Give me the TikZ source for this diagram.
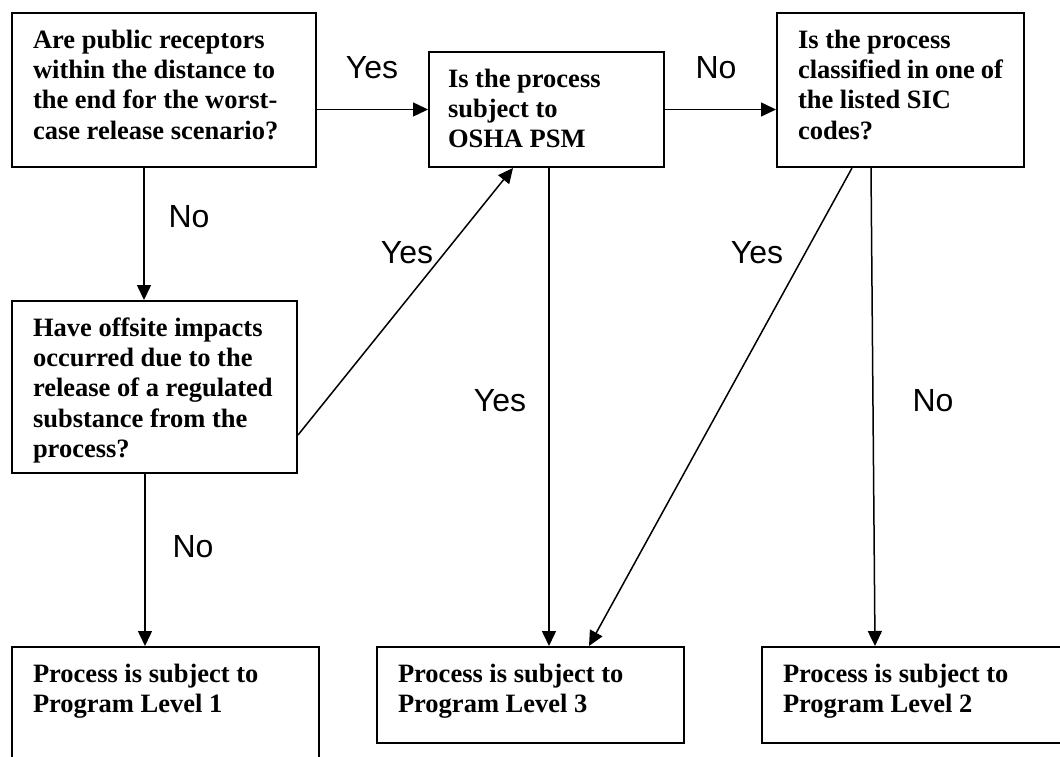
\documentclass[tikz,border=0pt]{standalone}
\usepackage{fontspec}
\setmainfont{Liberation Serif}
\newfontfamily\labelfont{Liberation Sans}
\usetikzlibrary{arrows.meta}
\newcommand{\boxtxt}[3]{\parbox[c][#2][t]{#1}{\raggedright\vspace*{14pt}\strut #3}}
\tikzset{
  qbox/.style={draw, line width=2pt, inner xsep=21pt, inner ysep=0pt, anchor=north west,
    font=\fontsize{26.5}{30.3}\selectfont\bfseries},
  arr/.style={line width=1.5pt, -{Triangle[length=15pt,width=14pt]}},
  lbl/.style={font=\fontsize{32}{38}\selectfont\labelfont, inner sep=0pt}
}
\begin{document}
\begin{tikzpicture}[x=1pt,y=-1pt]
\useasboundingbox (0,0) rectangle (1060,757);
\clip (0,0) rectangle (1060,757);
\fill[white] (0,0) rectangle (1060,757);
% boxes
\node[qbox] (A) at (11,12) {\boxtxt{262pt}{154pt}{Are public receptors\\within the distance to\\the end for the worst-\\case release scenario?}};
\node[qbox, inner xsep=19pt] (B) at (428,51) {\boxtxt{197pt}{115pt}{Is the process\\subject to\\OSHA PSM}};
\node[qbox] (C) at (776,12) {\boxtxt{205pt}{154pt}{Is the process\\classified in one of\\the listed SIC\\codes?}};
\node[qbox] (D) at (11,300) {\boxtxt{243pt}{172pt}{Have offsite impacts\\occurred due to the\\release of a regulated\\substance from the\\process?}};
\node[qbox] (L1) at (11,646) {\boxtxt{265pt}{160pt}{Process is subject to\\Program Level 1}};
\node[qbox] (L3) at (376,646) {\boxtxt{265pt}{96pt}{Process is subject to\\Program Level 3}};
\node[qbox] (L2) at (761,646) {\boxtxt{290pt}{96pt}{Process is subject to\\Program Level 2}};
% connectors
\draw[arr] (B.west -| A.east) -- (B.west);
\draw[arr] (B.east) -- (B.east -| C.west);
\draw[arr] ([xshift=133pt]A.south west) -- ([xshift=133pt]D.north west);
\draw[arr] ([yshift=39pt]D.south east) -- ([xshift=85pt]B.south west);
\draw[arr] ([xshift=134pt]D.south west) -- ([xshift=134pt]L1.north west);
\draw[arr] ([xshift=121pt]B.south west) -- ([xshift=173pt]L3.north west);
\draw[arr] ([xshift=76pt]C.south west) -- ([xshift=213pt]L3.north west);
\draw[arr] ([xshift=95pt]C.south west) -- ([xshift=114pt]L2.north west);
% labels
\node[lbl] (y1) at (372,68) {Yes};
\node[lbl] (n1) at (716,68) {No};
\node[lbl] (n2) at (189,217) {No};
\node[lbl] (y2) at (407,253) {Yes};
\node[lbl] (y3) at (757,253) {Yes};
\node[lbl] (y4) at (500,401) {Yes};
\node[lbl] (n3) at (933,401) {No};
\node[lbl] (n4) at (193,547) {No};
\end{tikzpicture}
\end{document}
